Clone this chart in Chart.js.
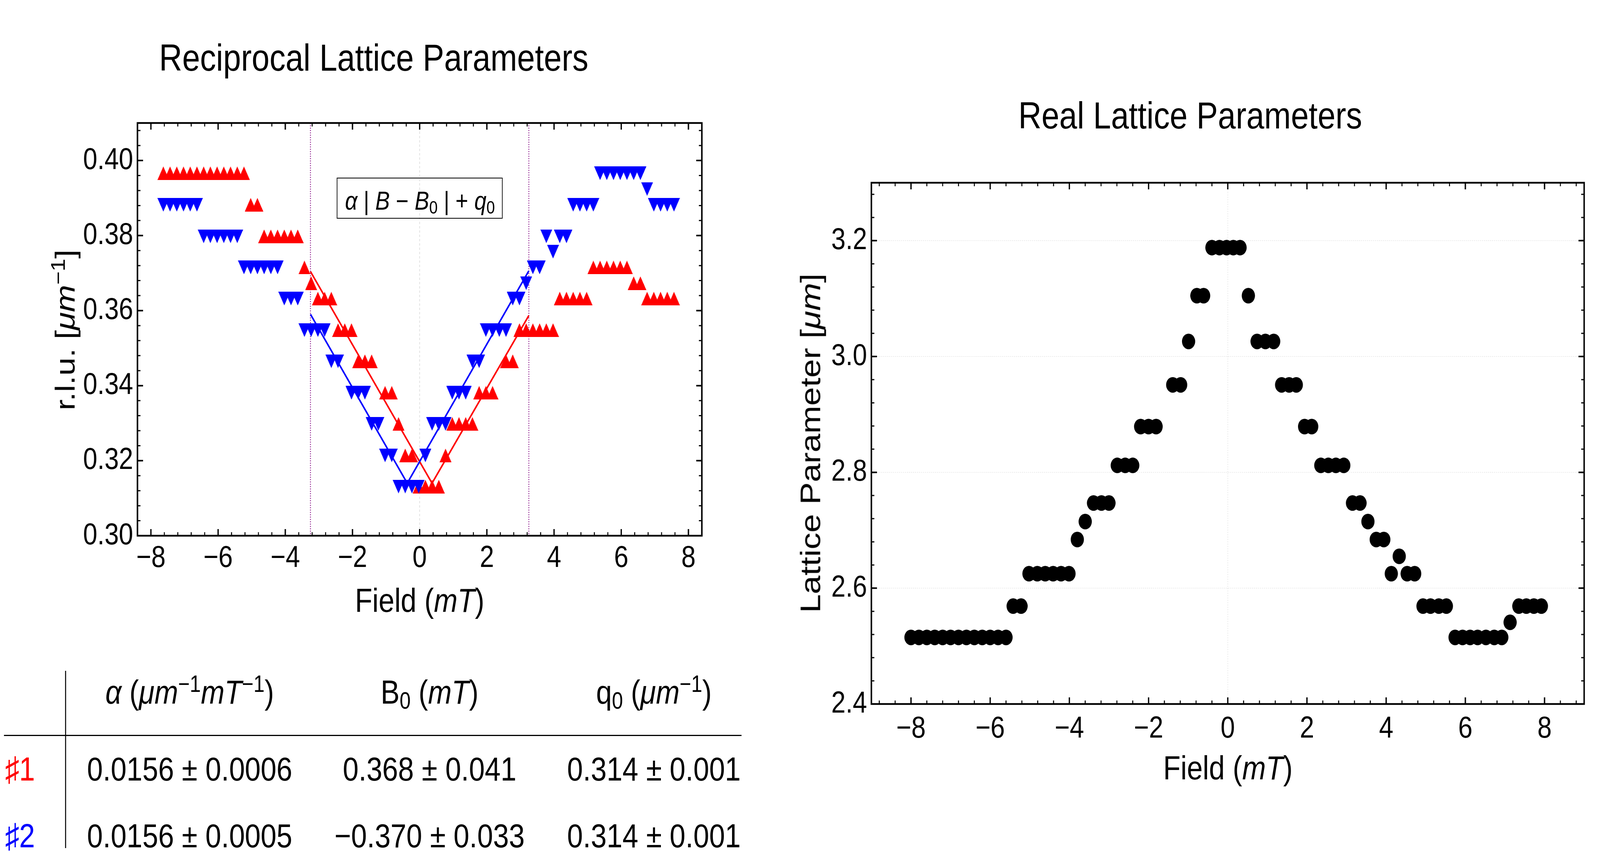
<!DOCTYPE html>
<html>
<head>
<meta charset="utf-8">
<title>Reciprocal and real lattice parameters</title>
<script src="https://cdn.jsdelivr.net/npm/chart.js@4.4.1/dist/chart.umd.min.js"></script>
<style>
  html, body { margin: 0; padding: 0; background: #fff; overflow: hidden; }
  #wrap { position: relative; overflow: hidden; width: 4842px; height: 2223px; }
  #page {
    position: absolute; left: 0; top: 0; width: 4842px; height: 2223px; overflow: hidden; background: #fff;
    font-family: "Liberation Sans", Arial, sans-serif; color: #000; transform-origin: 0 0;
  }
  canvas { position: absolute; top: 0; }
  #recip { left: 0; width: 2300px; height: 1620px; }
  #real { left: 2300px; width: 2542px; height: 2223px; }
  .txt { position: absolute; white-space: nowrap; }
  sup { font-size: 0.7em; vertical-align: 0.5em; line-height: 0; }
  sub { font-size: 0.7em; vertical-align: -0.22em; line-height: 0; }
  .rule { position: absolute; background: #000; }
  #fitbox {
    position: absolute; left: 1019px; top: 455px; width: 502px; height: 105px;
    box-sizing: border-box; border: 2.5px solid #000;
  }
</style>
</head>
<body>
<div id="wrap">
  <div id="page">
    <canvas id="recip" width="2300" height="1620"></canvas>
    <canvas id="real" width="2542" height="2223"></canvas>
    <div id="fitbox"></div>
  </div>
</div>
<script>
// ---- reciprocal lattice (left plot) ----
const fieldQ = [
  -7.63, -7.43, -7.23, -7.03, -6.83, -6.63, -6.43, -6.23, -6.03, -5.83,
  -5.63, -5.43, -5.23, -5.03, -4.83, -4.63, -4.43, -4.23, -4.03, -3.83,
  -3.63, -3.43, -3.23, -3.03, -2.83, -2.63, -2.43, -2.23, -2.03, -1.83,
  -1.63, -1.43, -1.23, -1.03, -0.83, -0.63, -0.43, -0.23, -0.03, 0.17,
  0.37, 0.57, 0.77, 0.97, 1.17, 1.37, 1.57, 1.77, 1.97, 2.17,
  2.37, 2.57, 2.77, 2.97, 3.17, 3.37, 3.57, 3.77, 3.97, 4.17,
  4.37, 4.57, 4.77, 4.97, 5.17, 5.37, 5.57, 5.77, 5.97, 6.17,
  6.37, 6.57, 6.77, 6.97, 7.17, 7.37, 7.57
];
const qRed = [
  0.3966, 0.3966, 0.3966, 0.3966, 0.3966, 0.3966, 0.3966, 0.3966, 0.3966, 0.3966,
  0.3966, 0.3966, 0.3966, 0.3882, 0.3882, 0.3798, 0.3798, 0.3798, 0.3798, 0.3798,
  0.3798, 0.3715, 0.3673, 0.3632, 0.3632, 0.3632, 0.3548, 0.3548, 0.3548, 0.3465,
  0.3465, 0.3465, null, 0.3381, 0.3381, 0.3298, 0.3214, 0.3214, 0.3131, 0.3131,
  0.3131, 0.3131, 0.3214, 0.3298, 0.3298, 0.3298, 0.3298, 0.3381, 0.3381, 0.3381,
  null, 0.3465, 0.3465, 0.3548, 0.3548, 0.3548, 0.3548, 0.3548, 0.3548, 0.3632,
  0.3632, 0.3632, 0.3632, 0.3632, 0.3715, 0.3715, 0.3715, 0.3715, 0.3715, 0.3715,
  0.3673, 0.3673, 0.3632, 0.3632, 0.3632, 0.3632, 0.3632
];
const qBlue = [
  0.3882, 0.3882, 0.3882, 0.3882, 0.3882, 0.3882, 0.3798, 0.3798, 0.3798, 0.3798,
  0.3798, 0.3798, 0.3715, 0.3715, 0.3715, 0.3715, 0.3715, 0.3715, 0.3632, 0.3632,
  0.3632, 0.3548, 0.3548, 0.3548, 0.3548, 0.3465, 0.3465, null, 0.3381, 0.3381,
  0.3381, 0.3298, 0.3298, 0.3214, 0.3214, 0.3131, 0.3131, 0.3131, 0.3131, 0.3214,
  0.3298, 0.3298, 0.3298, 0.3381, 0.3381, 0.3381, 0.3465, 0.3465, 0.3548, 0.3548,
  0.3548, 0.3548, 0.3632, 0.3632, 0.3673, 0.3715, 0.3715, 0.3798, 0.3757, 0.3798,
  0.3798, 0.3882, 0.3882, 0.3882, 0.3882, 0.3966, 0.3966, 0.3966, 0.3966, 0.3966,
  0.3966, 0.3966, 0.3924, 0.3882, 0.3882, 0.3882, 0.3882
];
// fitted |B - B0| lines at the ends of the fit range and at the vertex
const redFitX = [-3.25, 0.368, 3.25];
const redFitY = [0.3704, 0.3140, 0.3587];
const blueFitX = [-3.25, -0.370, 3.25];
const blueFitY = [0.3590, 0.3140, 0.3706];
const fitRange = [-3.25, 3.25];
const recipXTicks = [-8, -6, -4, -2, 0, 2, 4, 6, 8];
const recipYTicks = [0.30, 0.32, 0.34, 0.36, 0.38, 0.40];

// ---- real lattice (right plot) ----
const fieldA = [
  -8.00, -7.80, -7.60, -7.40, -7.20, -7.00, -6.80, -6.60, -6.40, -6.20,
  -6.00, -5.80, -5.60, -5.42, -5.22, -5.02, -4.81, -4.61, -4.41, -4.21,
  -4.01, -3.80, -3.60, -3.39, -3.19, -3.00, -2.79, -2.59, -2.40, -2.20,
  -2.00, -1.81, -1.39, -1.19, -0.99, -0.78, -0.61, -0.40, -0.21, -0.03,
  0.14, 0.31, 0.52, 0.74, 0.95, 1.16, 1.36, 1.55, 1.73, 1.94,
  2.12, 2.35, 2.54, 2.73, 2.93, 3.15, 3.34, 3.54, 3.75, 3.94,
  4.13, 4.33, 4.53, 4.72, 4.93, 5.12, 5.33, 5.52, 5.74, 5.93,
  6.12, 6.31, 6.52, 6.73, 6.92, 7.13, 7.35, 7.54, 7.73, 7.92
];
const latticeA = [
  2.515, 2.515, 2.515, 2.515, 2.515, 2.515, 2.515, 2.515, 2.515, 2.515,
  2.515, 2.515, 2.515, 2.569, 2.569, 2.625, 2.625, 2.625, 2.625, 2.625,
  2.625, 2.684, 2.715, 2.747, 2.747, 2.747, 2.812, 2.812, 2.812, 2.879,
  2.879, 2.879, 2.951, 2.951, 3.026, 3.105, 3.105, 3.188, 3.188, 3.188,
  3.188, 3.188, 3.105, 3.026, 3.026, 3.026, 2.951, 2.951, 2.951, 2.879,
  2.879, 2.812, 2.812, 2.812, 2.812, 2.747, 2.747, 2.715, 2.684, 2.684,
  2.625, 2.655, 2.625, 2.625, 2.569, 2.569, 2.569, 2.569, 2.515, 2.515,
  2.515, 2.515, 2.515, 2.515, 2.515, 2.541, 2.569, 2.569, 2.569, 2.569
];
const realXTicks = [-8, -6, -4, -2, 0, 2, 4, 6, 8];
const realYTicks = [2.4, 2.6, 2.8, 3.0, 3.2];

// ---- fit table ----
const tableHeads = [
  '<i>α</i> (<i>μm</i><sup>−1</sup><i>mT</i><sup>−1</sup>)',
  'B<sub>0</sub> (<i>mT</i>)',
  'q<sub>0</sub> (<i>μm</i><sup>−1</sup>)'
];
const rowNames = ['♯1', '♯2'];
const alphaFit = ['0.0156 ± 0.0006', '0.0156 ± 0.0005'];
const b0Fit = ['0.368 ± 0.041', '−0.370 ± 0.033'];
const q0Fit = ['0.314 ± 0.001', '0.314 ± 0.001'];

const FAMILY = '"Liberation Sans", Arial, sans-serif';
const RED = '#ff0000';
const BLUE = '#0000ff';

const page = document.getElementById('page');
const wrap = document.getElementById('wrap');
// the layout is drawn on a 4842 x 2223 grid and stretched onto whatever viewport the browser gives
const sx = (window.innerWidth || 4842) / 4842;
const sy = (window.innerHeight || 2223) / 2223;
page.style.transform = 'scale(' + sx + ', ' + sy + ')';
wrap.style.width = (4842 * sx) + 'px';
wrap.style.height = (2223 * sy) + 'px';

function pairs(xs, ys) {
  return xs.map((x, i) => ({ x: x, y: ys[i] })).filter(p => p.y !== null);
}

function minus(v) {
  return String(v).replace('-', '\u2212');
}

// filled triangle drawn as an image so it sits centred on its bounding box
function triangle(color, down) {
  const w = 36, h = 35;
  const c = document.createElement('canvas');
  c.width = w;
  c.height = h;
  const g = c.getContext('2d');
  g.fillStyle = color;
  g.beginPath();
  if (down) {
    g.moveTo(0, 0); g.lineTo(w, 0); g.lineTo(w / 2, h);
  } else {
    g.moveTo(w / 2, 0); g.lineTo(w, h); g.lineTo(0, h);
  }
  g.closePath();
  g.fill();
  return c;
}

function steps(major, n, min, max) {
  const step = (major[1] - major[0]) / n;
  const out = [];
  let v = major[0] - Math.floor((major[0] - min) / step + 1e-9) * step;
  for (; v <= max + 1e-9; v += step) out.push(v);
  return out;
}

// frame with inward ticks on all four sides, grid lines and the fit-range markers
function framePlugin(cfg) {
  const vLine = (ctx, px, a) => { ctx.beginPath(); ctx.moveTo(px, a.top); ctx.lineTo(px, a.bottom); ctx.stroke(); };
  const hLine = (ctx, py, a) => { ctx.beginPath(); ctx.moveTo(a.left, py); ctx.lineTo(a.right, py); ctx.stroke(); };
  return {
    id: 'frame',
    beforeDatasetsDraw(chart) {
      const { ctx, chartArea: a, scales: { x, y } } = chart;
      ctx.save();
      ctx.lineWidth = cfg.gridWidth;
      ctx.strokeStyle = cfg.gridColor;
      ctx.setLineDash(cfg.gridDash);
      cfg.gridX.forEach(v => vLine(ctx, x.getPixelForValue(v), a));
      cfg.gridY.forEach(v => hLine(ctx, y.getPixelForValue(v), a));
      if (cfg.marks) {
        ctx.strokeStyle = cfg.marks.color;
        ctx.lineWidth = cfg.marks.width;
        ctx.setLineDash(cfg.marks.dash);
        cfg.marks.values.forEach(v => vLine(ctx, x.getPixelForValue(v), a));
      }
      ctx.restore();
    },
    afterDatasetsDraw(chart) {
      const { ctx, chartArea: a, scales: { x, y } } = chart;
      ctx.save();
      ctx.strokeStyle = '#000';
      const tick = (vals, len, width) => {
        ctx.lineWidth = width;
        ctx.beginPath();
        vals.x.forEach(v => {
          const px = x.getPixelForValue(v);
          if (px < a.left + 3 || px > a.right - 3) return;
          ctx.moveTo(px, a.bottom); ctx.lineTo(px, a.bottom - len);
          ctx.moveTo(px, a.top); ctx.lineTo(px, a.top + len);
        });
        vals.y.forEach(v => {
          const py = y.getPixelForValue(v);
          if (py < a.top + 3 || py > a.bottom - 3) return;
          ctx.moveTo(a.left, py); ctx.lineTo(a.left + len, py);
          ctx.moveTo(a.right, py); ctx.lineTo(a.right - len, py);
        });
        ctx.stroke();
      };
      tick({ x: steps(cfg.xMajor, 5, x.min, x.max), y: steps(cfg.yMajor, 5, y.min, y.max) }, 9, 3);
      tick({ x: cfg.xMajor, y: cfg.yMajor }, 17, 4);
      ctx.lineWidth = 4.5;
      ctx.strokeRect(a.left, a.top, a.right - a.left, a.bottom - a.top);
      ctx.restore();
    }
  };
}

function axis(min, max, ticks, fmt, pad, fit) {
  return {
    type: 'linear', min: min, max: max,
    afterBuildTicks: s => { s.ticks = ticks.map(v => ({ value: v })); },
    afterFit: fit,
    grid: { display: false, drawTicks: false },
    border: { display: false },
    ticks: {
      font: { family: FAMILY, size: 78 }, color: '#000', padding: pad,
      autoSkip: false, maxRotation: 0, callback: fmt
    }
  };
}

const common = {
  responsive: false, animation: false, devicePixelRatio: 1, events: [],
  plugins: { legend: { display: false }, tooltip: { enabled: false } }
};

new Chart(document.getElementById('recip'), {
  type: 'scatter',
  data: {
    datasets: [
      { label: 'fit 2', data: pairs(blueFitX, blueFitY), showLine: true, borderColor: BLUE, borderWidth: 4.5, pointRadius: 0 },
      { label: 'fit 1', data: pairs(redFitX, redFitY), showLine: true, borderColor: RED, borderWidth: 4.5, pointRadius: 0 },
      { label: '#2', data: pairs(fieldQ, qBlue), pointStyle: triangle(BLUE, true), pointRadius: 18 },
      { label: '#1', data: pairs(fieldQ, qRed), pointStyle: triangle(RED, false), pointRadius: 18 }
    ]
  },
  options: Object.assign({}, common, {
    layout: { autoPadding: false, padding: { left: 0, right: 176, top: 315, bottom: 0 } },
    scales: {
      x: axis(-8.4, 8.4, recipXTicks, v => minus(v), 12, s => { s.height = 248; }),
      y: axis(0.30, 0.41, recipYTicks, v => v.toFixed(2), 13, s => { s.width = 416; })
    }
  }),
  plugins: [framePlugin({
    gridX: [0], gridY: [], gridColor: '#cfcfcf', gridDash: [6, 5], gridWidth: 1.5,
    marks: { values: fitRange, color: '#800080', width: 2.5, dash: [2.5, 3.5] },
    xMajor: recipXTicks, yMajor: recipYTicks
  })]
});

new Chart(document.getElementById('real'), {
  type: 'scatter',
  data: {
    datasets: [
      { label: 'a', data: pairs(fieldA, latticeA), pointStyle: 'circle', pointRadius: 20,
        backgroundColor: '#000', borderWidth: 0 }
    ]
  },
  options: Object.assign({}, common, {
    layout: { autoPadding: false, padding: { left: 0, right: 48, top: 468, bottom: 0 } },
    scales: {
      x: axis(-9, 9, realXTicks, v => minus(v), 18, s => { s.height = 420; }),
      y: axis(2.4, 3.3, realYTicks, v => v.toFixed(1), 13, s => { s.width = 337; })
    }
  }),
  plugins: [framePlugin({
    gridX: [0], gridY: [2.6, 2.8, 3.0, 3.2], gridColor: '#e2e2e2', gridDash: [3, 3], gridWidth: 1.5,
    xMajor: realXTicks, yMajor: realYTicks
  })]
});

// ---- text ----
function text(html, o) {
  const d = document.createElement('div');
  d.className = 'txt';
  d.innerHTML = html;
  d.style.fontSize = o.size + 'px';
  d.style.lineHeight = o.size + 'px';
  if (o.color) d.style.color = o.color;
  if (o.rotate) {
    d.style.left = o.cx + 'px';
    d.style.top = o.cy + 'px';
    d.style.transform = 'translate(-50%, -50%) rotate(-90deg)';
  } else {
    d.style.top = (o.base - 0.8465 * o.size) + 'px';
    if (o.left !== undefined) {
      d.style.left = o.left + 'px';
    } else {
      d.style.left = (o.cx - 1200) + 'px';
      d.style.width = '2400px';
      d.style.textAlign = 'center';
    }
  }
  page.appendChild(d);
}

text('Reciprocal Lattice Parameters', { cx: 1131, base: 181, size: 97 });
text('Real Lattice Parameters', { cx: 3602, base: 329, size: 97 });
text('Field (<i>mT</i>)', { cx: 1270, base: 1567, size: 86 });
text('Field (<i>mT</i>)', { cx: 3716, base: 1996, size: 86 });
text('r.l.u. [<i>μm</i><sup>−1</sup>]', { rotate: true, cx: 197, cy: 845, size: 84 });
text('Lattice Parameter [<i>μm</i>]', { rotate: true, cx: 2452, cy: 1135, size: 86 });
text('<i>α</i> | <i>B</i> − <i>B</i><sub>0</sub> | + <i>q</i><sub>0</sub>', { cx: 1271, base: 537, size: 66 });

function rule(left, top, w, h) {
  const d = document.createElement('div');
  d.className = 'rule';
  Object.assign(d.style, { left: left + 'px', top: top + 'px', width: w + 'px', height: h + 'px' });
  page.appendChild(d);
}
rule(197, 1718, 3, 454);
rule(12, 1882, 2232, 3);

const colX = [574, 1300, 1979];
const rowBase = [1999, 2170];
const rowColors = [RED, BLUE];
tableHeads.forEach((h, j) => text(h, { cx: colX[j], base: 1802, size: 86 }));
rowNames.forEach((name, i) => {
  text(name, { left: 15, base: rowBase[i], size: 86, color: rowColors[i] });
  [alphaFit[i], b0Fit[i], q0Fit[i]].forEach((s, j) => text(s, { cx: colX[j], base: rowBase[i], size: 86 }));
});
</script>
</body>
</html>
